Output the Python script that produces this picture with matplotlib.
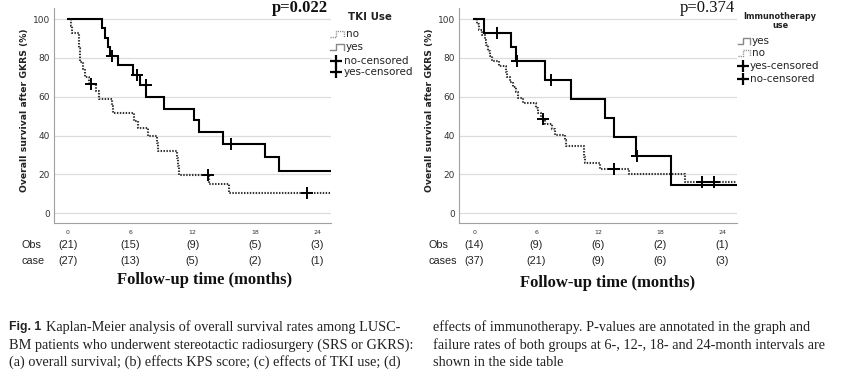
import matplotlib
matplotlib.use('Agg')
import matplotlib.pyplot as plt
from matplotlib.lines import Line2D
from matplotlib.transforms import blended_transform_factory

W, H = 851, 377

# ---------------- data: panel (c) TKI use ----------------
tki_yes_t = [0, 3.27, 3.55, 3.88, 4.05, 4.8, 6.23, 6.98, 7.53, 9.3, 12.1, 12.66, 14.96, 18.95, 20.35, 25.3]
tki_yes_s = [100, 95.2, 90.5, 85.7, 81.0, 76.2, 71.4, 66.2, 59.8, 53.8, 47.8, 41.8, 35.9, 28.9, 21.7, 21.7]
tki_yes_cens_t = [4.23, 6.68, 7.5, 15.67]
tki_yes_cens_s = [81.0, 71.4, 66.2, 35.9]

tki_no_t = [0, 0.3, 0.45, 1.05, 1.12, 1.2, 1.45, 1.62, 2.0, 2.7, 3.05, 4.25, 4.35, 6.4, 6.8, 7.7,
            8.6, 8.7, 10.5, 10.6, 10.74, 13.6, 15.5, 25.3]
tki_no_s = [100, 96.3, 92.6, 88.9, 85.2, 77.8, 74.1, 70.4, 66.7, 62.9, 59.0, 55.2, 51.5, 47.6, 43.8, 40.0,
            36.1, 32.2, 28.3, 24.3, 19.9, 15.0, 10.2, 10.2]
tki_no_cens_t = [2.2, 13.5, 23.0]
tki_no_cens_s = [66.7, 19.9, 10.2]

tki_ticks = [0, 6, 12, 18, 24]
tki_obs = ["(21)", "(15)", "(9)", "(5)", "(3)"]
tki_case = ["(27)", "(13)", "(5)", "(2)", "(1)"]

# ---------------- data: panel (d) immunotherapy ----------------
imm_yes_t = [0, 0.95, 3.52, 4.02, 6.88, 9.36, 12.7, 13.57, 15.67, 19.03, 25.4]
imm_yes_s = [100, 92.9, 85.7, 78.6, 68.8, 59.0, 49.2, 39.4, 29.5, 14.8, 14.8]
imm_yes_cens_t = [2.23, 4.17, 7.42, 15.75]
imm_yes_cens_s = [92.9, 78.6, 68.8, 29.5]

imm_no_t = [0, 0.25, 0.5, 0.75, 1.04, 1.15, 1.37, 1.5, 1.7, 2.4, 3.05, 3.2, 3.45, 3.72, 4.0, 4.27,
            4.76, 6.0, 6.2, 6.44, 6.86, 7.5, 7.84, 8.75, 8.85, 10.6, 10.65, 10.75, 12.2, 15.0, 20.4, 25.4]
imm_no_s = [100, 97.3, 94.6, 91.9, 89.2, 86.5, 83.8, 81.1, 78.4, 75.7, 73.0, 70.3, 67.6, 64.9, 62.2, 59.5,
            56.8, 54.1, 51.4, 48.7, 46.0, 43.3, 40.3, 37.5, 34.6, 31.7, 28.8, 25.9, 23.0, 20.0, 16.3, 16.3]
imm_no_cens_t = [6.69, 13.5, 22.1, 23.2]
imm_no_cens_s = [48.7, 23.0, 16.3, 16.3]

imm_ticks = [0, 6, 12, 18, 24]
imm_obs = ["(14)", "(9)", "(6)", "(2)", "(1)"]
imm_case = ["(37)", "(21)", "(9)", "(6)", "(3)"]

y_ticks = [0, 20, 40, 60, 80, 100]

# ---------------- figure ----------------
fig = plt.figure(figsize=(W / 100, H / 100), dpi=100)
fig.patch.set_facecolor('white')


def fx(x):
    return x / W


def fy(y):
    return 1 - y / H


SOLID = dict(color='black', lw=1.5, solid_joinstyle='miter')
DOTTED = dict(color='#333333', lw=1.5, linestyle=(0, (0.7, 0.7)))
CENS = dict(linestyle='none', marker='+', color='black', markersize=8, mew=1.4)


def style_axes(ax, xlim):
    ax.set_xlim(*xlim)
    ax.set_ylim(-4.84, 105.7)
    for s in ['top', 'right']:
        ax.spines[s].set_visible(False)
    for s in ['left', 'bottom']:
        ax.spines[s].set_color('#a0a0a0')
        ax.spines[s].set_linewidth(0.8)
    ax.set_yticks(y_ticks)
    ax.set_xticks([0, 6, 12, 18, 24])
    ax.tick_params(axis='y', length=0, pad=3, labelsize=6.5, labelcolor='#333333')
    ax.tick_params(axis='x', length=0, pad=5, labelsize=4.5, labelcolor='#333333')
    ax.grid(axis='y', color='#dcdcdc', lw=0.9)
    ax.set_axisbelow(True)


axL = fig.add_axes([fx(54), fy(222.7), 277 / W, 214.7 / H])
axR = fig.add_axes([fx(459.3), fy(222.7), 277.7 / W, 214.7 / H])
style_axes(axL, (-1.32, 25.32))
style_axes(axR, (-1.45, 25.45))

axL.step(tki_no_t, tki_no_s, where='post', **DOTTED)
axL.step(tki_yes_t, tki_yes_s, where='post', **SOLID)
axL.plot(tki_no_cens_t, tki_no_cens_s, **CENS)
axL.plot(tki_yes_cens_t, tki_yes_cens_s, **CENS)

axR.step(imm_no_t, imm_no_s, where='post', **DOTTED)
axR.step(imm_yes_t, imm_yes_s, where='post', **SOLID)
axR.plot(imm_no_cens_t, imm_no_cens_s, **CENS)
axR.plot(imm_yes_cens_t, imm_yes_cens_s, **CENS)

# y labels
for x in (25, 430):
    fig.text(fx(x), fy(110), 'Overall survival after GKRS (%)', rotation=90, ha='center', va='center',
             fontsize=6.7, fontweight='bold', color='#222222', family='DejaVu Sans')

# p-values
fig.text(fx(328), fy(12), 'p=0.022', ha='right', va='baseline', fontsize=12, fontweight='bold',
         family='Liberation Serif', color='#111111')
fig.text(fx(735), fy(12), 'p=0.374', ha='right', va='baseline', fontsize=12,
         family='Liberation Serif', color='#111111')


# legends (drawn as decorations)
def step_icon(x0, x1, y, dotted):
    xm = x0 + (x1 - x0) * 0.45
    xs = [x0, xm, xm, x1, x1]
    ys = [y + 3, y + 3, y - 3, y - 3, y + 3]
    kw = dict(color='#888888', lw=1.0)
    if dotted:
        kw['linestyle'] = (0, (0.8, 0.8))
    fig.add_artist(Line2D([fx(v) for v in xs], [fy(v) for v in ys], transform=fig.transFigure, **kw))


def plus_icon(x, y):
    fig.add_artist(Line2D([fx(x)], [fy(y)], transform=fig.transFigure, marker='+', color='black',
                          markersize=9, mew=1.6, linestyle='none'))


LEG_FONT = dict(fontsize=7.5, family='DejaVu Sans', color='#222222', va='center', ha='left')

fig.text(fx(370), fy(17.5), 'TKI Use', ha='center', va='center', fontsize=7.4, fontweight='bold',
         family='DejaVu Sans', color='#222222')
step_icon(330, 344, 34, True)
fig.text(fx(346), fy(34), 'no', **LEG_FONT)
step_icon(330, 344, 47.3, False)
fig.text(fx(346), fy(47.3), 'yes', **LEG_FONT)
plus_icon(336, 60.7)
fig.text(fx(344), fy(60.7), 'no\u2010censored', **LEG_FONT)
plus_icon(336, 72.3)
fig.text(fx(344), fy(72.3), 'yes\u2010censored', **LEG_FONT)

fig.text(fx(780), fy(16.7), 'Immunotherapy', ha='center', va='center', fontsize=5.9, fontweight='bold',
         family='DejaVu Sans', color='#222222')
fig.text(fx(780), fy(26), 'use', ha='center', va='center', fontsize=5.9, fontweight='bold',
         family='DejaVu Sans', color='#222222')
step_icon(738, 750, 41, False)
fig.text(fx(752), fy(41), 'yes', **LEG_FONT)
step_icon(738, 750, 53.3, True)
fig.text(fx(752), fy(53.3), 'no', **LEG_FONT)
plus_icon(743, 65.7)
fig.text(fx(750), fy(65.7), 'yes\u2010censored', **LEG_FONT)
plus_icon(743, 79)
fig.text(fx(750), fy(79), 'no\u2010censored', **LEG_FONT)

# risk tables
RT = dict(fontsize=7.8, family='Liberation Sans', color='#222222', va='center')
for ax, ticks, obs, case, lab2, xl, y1, y2 in (
        (axL, tki_ticks, tki_obs, tki_case, 'case', 21.7, 245, 260.7),
        (axR, imm_ticks, imm_obs, imm_case, 'cases', 428, 245, 261)):
    tr = blended_transform_factory(ax.transData, fig.transFigure)
    for t, o, c in zip(ticks, obs, case):
        ax.text(t, fy(y1), o, transform=tr, ha='center', **RT)
        ax.text(t, fy(y2), c, transform=tr, ha='center', **RT)
    fig.text(fx(xl), fy(y1), 'Obs', ha='left', **RT)
    fig.text(fx(xl), fy(y2), lab2, ha='left', **RT)

fig.text(fx(205), fy(280), 'Follow-up time (months)', ha='center', va='center', fontsize=12,
         fontweight='bold', family='Liberation Serif', color='#111111')
fig.text(fx(608), fy(283), 'Follow-up time (months)', ha='center', va='center', fontsize=12,
         fontweight='bold', family='Liberation Serif', color='#111111')

# caption
CAP = dict(fontsize=10.3, family='Liberation Serif', color='#222222', va='center', ha='left')
fig.text(fx(9), fy(327), 'Fig. 1', fontsize=8.8, fontweight='bold', family='Liberation Sans',
         color='#222222', va='center', ha='left')
fig.text(fx(46), fy(327), 'Kaplan-Meier analysis of overall survival rates among LUSC-', **CAP)
fig.text(fx(9), fy(345), 'BM patients who underwent stereotactic radiosurgery (SRS or GKRS):', **CAP)
fig.text(fx(9), fy(362), '(a) overall survival; (b) effects KPS score; (c) effects of TKI use; (d)', **CAP)
fig.text(fx(433), fy(327), 'effects of immunotherapy. P-values are annotated in the graph and', **CAP)
fig.text(fx(433), fy(345), 'failure rates of both groups at 6-, 12-, 18- and 24-month intervals are', **CAP)
fig.text(fx(433), fy(362), 'shown in the side table', **CAP)

fig.savefig('out.png', dpi=100, facecolor='white')
